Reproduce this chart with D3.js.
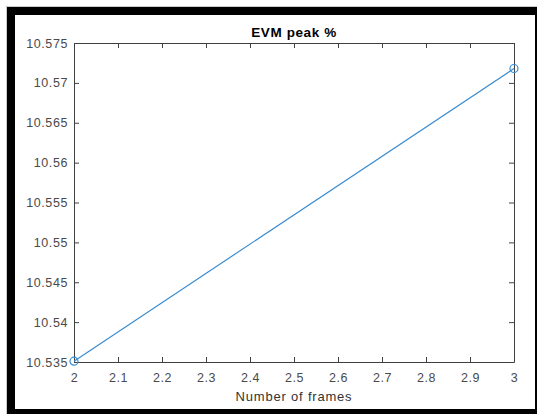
<!DOCTYPE html>
<html>
<head>
<meta charset="utf-8">
<script src="https://cdn.jsdelivr.net/npm/d3@7"></script>
<style>
  body { margin: 0; background: #fff; }
  svg { display: block; font-family: "Liberation Sans", Arial, Helvetica, sans-serif; }
  .axis text { fill: #4a4a4a; font-size: 12.5px; letter-spacing: 0.6px; }
  .axis path, .axis line { stroke: #404040; }
</style>
</head>
<body>
<svg class="chartSvg" width="537" height="414"></svg>
<script>
// data
var frames = [2, 3];
var evmPeak = [10.5351, 10.5718];
var xTicks = [2, 2.1, 2.2, 2.3, 2.4, 2.5, 2.6, 2.7, 2.8, 2.9, 3];
var yTicks = [10.535, 10.54, 10.545, 10.55, 10.555, 10.56, 10.565, 10.57, 10.575];
var titleText = "EVM peak %";
var xLabelText = "Number of frames";

var margin = {top: 43, right: 23, bottom: 52, left: 74},
    fullW = 537, fullH = 414,
    width = 514 - margin.left,
    height = 362 - margin.top;

var root = d3.select(".chartSvg");

// screenshot frame (black border round the figure)
root.append("rect").attr("x", 6).attr("y", 6).attr("width", fullW - 6).attr("height", fullH - 6)
    .attr("fill", "#ccc");
root.append("rect").attr("x", 7).attr("y", 7).attr("width", fullW - 7).attr("height", fullH - 7)
    .attr("fill", "#000");
root.append("rect").attr("x", 15).attr("y", 15).attr("width", 535 - 15).attr("height", 409 - 15)
    .attr("fill", "#fff");

var svg = root.append("g")
    .attr("transform", "translate(" + margin.left + "," + margin.top + ")");

var x = d3.scaleLinear().domain([2, 3]).range([0, width]);
var y = d3.scaleLinear().domain([10.535, 10.575]).range([height, 0]);

var fmt = function(d) { return String(+d.toFixed(3)); };

// box (top/right, ticks only)
svg.append("g").attr("class", "axis")
    .call(d3.axisTop(x).tickValues(xTicks).tickSize(-5).tickSizeOuter(0).tickFormat(""));
svg.append("g").attr("class", "axis")
    .attr("transform", "translate(" + width + ",0)")
    .call(d3.axisRight(y).tickValues(yTicks).tickSize(-5).tickSizeOuter(0).tickFormat(""));

// bottom / left
svg.append("g").attr("class", "x axis")
    .attr("transform", "translate(0," + height + ")")
    .call(d3.axisBottom(x).tickValues(xTicks).tickSizeInner(-5).tickSizeOuter(0)
          .tickPadding(11).tickFormat(fmt));
svg.append("g").attr("class", "y axis")
    .call(d3.axisLeft(y).tickValues(yTicks).tickSizeInner(-5).tickSizeOuter(0)
          .tickPadding(6).tickFormat(fmt));

svg.selectAll(".axis text").attr("font-family", null).attr("font-size", null);

var pts = frames.map(function(f, i) { return {f: f, v: evmPeak[i]}; });

var line = d3.line()
    .x(function(d) { return x(d.f); })
    .y(function(d) { return y(d.v); });

svg.append("path")
    .datum(pts)
    .attr("fill", "none")
    .attr("stroke", "#3a8ccf")
    .attr("stroke-width", 1.2)
    .attr("d", line);

svg.selectAll(".dot")
    .data(pts)
    .enter().append("circle")
    .attr("class", "dot")
    .attr("r", 4)
    .attr("cx", function(d) { return x(d.f); })
    .attr("cy", function(d) { return y(d.v); })
    .attr("fill", "none")
    .attr("stroke", "#3a8ccf")
    .attr("stroke-width", 1.2);

// title and x label
svg.append("text")
    .attr("x", width / 2)
    .attr("y", -6)
    .attr("text-anchor", "middle")
    .attr("font-size", "13.5px")
    .attr("font-weight", "bold")
    .attr("letter-spacing", "0.6px")
    .attr("fill", "#000")
    .text(titleText);

svg.append("text")
    .attr("x", width / 2)
    .attr("y", height + 39)
    .attr("text-anchor", "middle")
    .attr("font-size", "13px")
    .attr("letter-spacing", "0.8px")
    .attr("fill", "#333")
    .text(xLabelText);
</script>
</body>
</html>
